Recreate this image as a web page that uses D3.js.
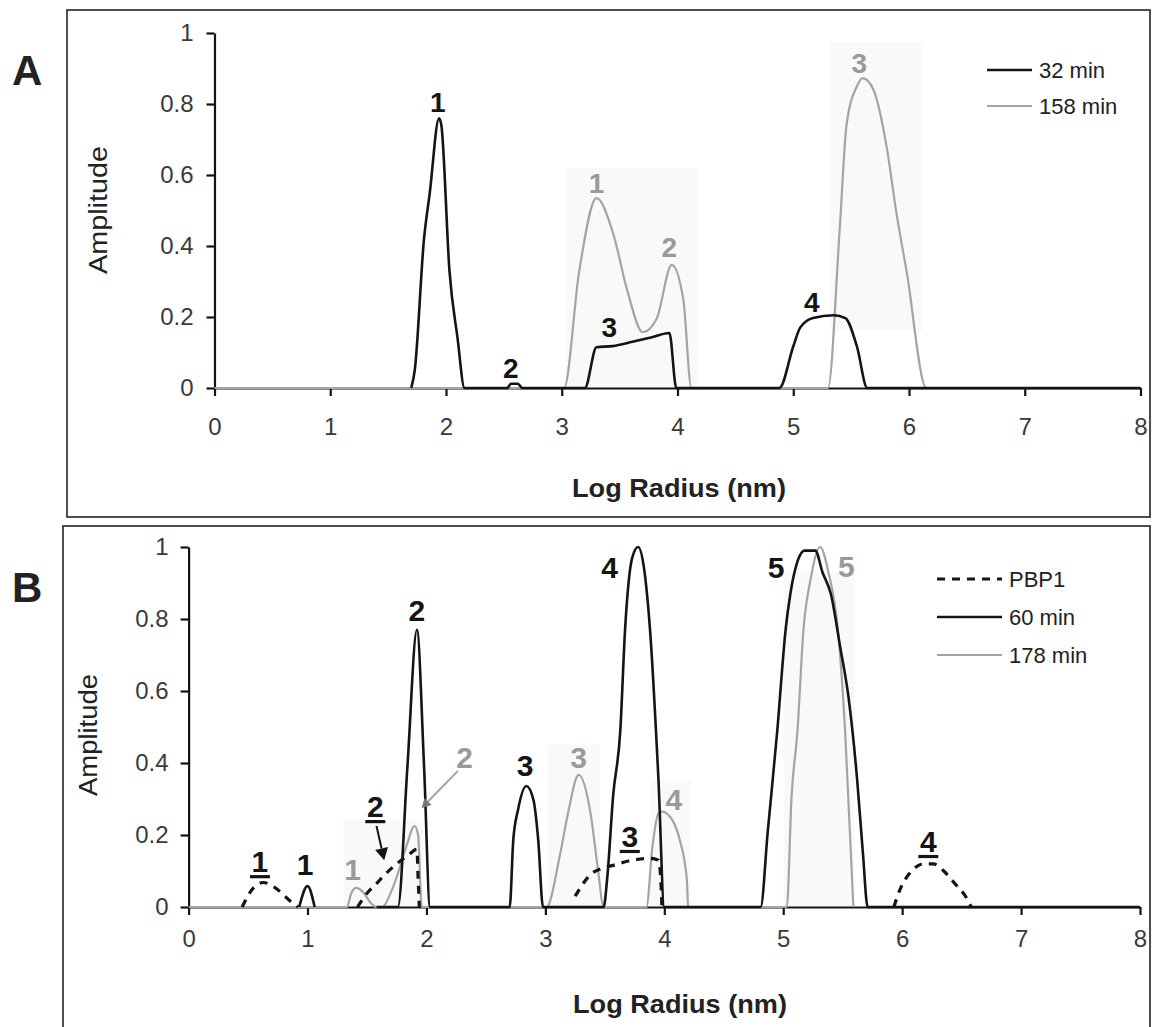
<!DOCTYPE html>
<html><head><meta charset="utf-8">
<script src="https://cdn.jsdelivr.net/npm/d3@7"></script>
<style>
body{margin:0;background:#fff}
svg{display:block}
text{font-family:"Liberation Sans",Arial,Helvetica,sans-serif}
</style>
</head><body>
<svg id="fig" width="1155" height="1027"></svg>
<script>
// ---- shared axis values ----
const xTickValues = [0, 1, 2, 3, 4, 5, 6, 7, 8];
const yTickValues = [0, 0.2, 0.4, 0.6, 0.8, 1];

// ---- Panel A: size distributions at two times ----
const a32min = [[1.70,0],[1.73,0.05],[1.81,0.42],[1.86,0.55],[1.94,0.76],[1.96,0.74],[2.03,0.33],[2.10,0.14],[2.16,0],
  [2.53,0],[2.56,0.012],[2.62,0.012],[2.66,0],
  [3.20,0],[3.30,0.115],[3.44,0.118],[3.61,0.13],[3.78,0.143],[3.93,0.155],[3.99,0],
  [4.88,0],[5.00,0.117],[5.06,0.17],[5.17,0.197],[5.35,0.205],[5.45,0.197],[5.55,0.117],[5.64,0],[8,0]];
const a158min = [[0,0],[3.02,0],[3.15,0.327],[3.30,0.535],[3.44,0.44],[3.57,0.27],[3.70,0.157],[3.82,0.195],[3.95,0.347],[4.05,0.25],[4.12,0],
  [5.30,0],[5.40,0.44],[5.46,0.74],[5.55,0.85],[5.60,0.873],[5.69,0.842],[5.81,0.673],[5.89,0.496],[5.98,0.327],[6.15,0],[6.2,0]];
const aLegend = ["32 min", "158 min"];
const aLabels32 = [["1",1.93,0.777],["2",2.56,0.028],["3",3.41,0.144],["4",5.16,0.214]];
const aLabels158 = [["1",3.30,0.549],["2",3.93,0.369],["3",5.57,0.887]];
const aShade = [[3.03,4.18,0,0.62],[5.32,6.12,0.163,0.975]];

// ---- Panel B: PBP1 and two times ----
const bPBP1 = [[0.45,0],[0.55,0.055],[0.63,0.068],[0.72,0.055],[0.87,0.012],[0.92,0], null,
  [1.42,0],[1.50,0.038],[1.58,0.065],[1.65,0.09],[1.75,0.12],[1.85,0.145],[1.92,0.16],[1.93,0.08],[1.94,0], null,
  [3.25,0.03],[3.38,0.09],[3.50,0.11],[3.56,0.115],[3.73,0.13],[3.88,0.135],[3.95,0.13],[3.97,0.08],[3.98,0], null,
  [5.93,0],[5.98,0.047],[6.08,0.10],[6.18,0.12],[6.26,0.12],[6.35,0.10],[6.43,0.07],[6.55,0.02],[6.58,0]];
const b60min = [[0.93,0],[1.0,0.058],[1.06,0], null,
  [1.58,0],[1.76,0],[1.84,0.39],[1.92,0.77],[1.98,0.39],[2.03,0],
  [2.70,0],[2.73,0.186],[2.77,0.27],[2.84,0.336],[2.90,0.297],[2.94,0.186],[2.98,0],
  [3.49,0],[3.52,0.08],[3.57,0.31],[3.63,0.49],[3.67,0.77],[3.73,0.97],[3.78,1.0],[3.83,0.94],[3.88,0.77],[3.95,0.36],[4.00,0],
  [4.81,0],[4.87,0.21],[4.95,0.49],[5.02,0.77],[5.06,0.87],[5.12,0.96],[5.18,0.99],[5.27,0.99],[5.33,0.93],[5.40,0.87],[5.48,0.72],[5.55,0.58],[5.62,0.36],[5.67,0.15],[5.71,0],[8,0]];
const b178min = [[0,0],[1.33,0],[1.37,0.04],[1.41,0.053],[1.47,0.04],[1.53,0.012],[1.58,0],[1.63,0],[1.70,0.04],[1.75,0.083],[1.83,0.167],[1.90,0.225],[1.93,0.20],[1.96,0],
  [3.01,0],[3.12,0.14],[3.19,0.26],[3.28,0.367],[3.38,0.26],[3.44,0.11],[3.49,0],
  [3.85,0],[3.90,0.167],[3.95,0.26],[3.98,0.265],[4.07,0.24],[4.13,0.186],[4.19,0.075],[4.20,0],
  [5.03,0],[5.07,0.306],[5.12,0.49],[5.17,0.77],[5.23,0.91],[5.31,1.0],[5.38,0.93],[5.46,0.77],[5.52,0.49],[5.56,0.21],[5.59,0]];
const bLegend = ["PBP1", "60 min", "178 min"];
const bLabelsPBP1 = [["1",0.60,0.097],["2",1.57,0.25],["3",3.71,0.167],["4",6.22,0.153]];
const bLabels60 = [["1",0.98,0.089],["2",1.92,0.794],["3",2.83,0.364],["4",3.54,0.914],["5",4.94,0.914]];
const bLabels178 = [["1",1.38,0.075],["2",2.32,0.386],["3",3.28,0.386],["4",4.08,0.269],["5",5.53,0.917]];
const bArrowPBP1 = [[1.58,0.225],[1.645,0.13]];
const bArrow178 = [[2.265,0.378],[1.96,0.275]];
const bShade = [[5.0,5.6,0,0.93],[3.02,3.46,0,0.45],[3.88,4.22,0,0.35],[1.30,1.97,0,0.24]];

const BLACK = "#141414", GRAY = "#a4a4a4", GRAY_TEXT = "#9a9a9a";
const svg = d3.select("#fig");

function panel(cfg) {
  const g = svg.append("g");
  // outer frame
  g.append("rect").attr("x", cfg.frame[0]).attr("y", cfg.frame[1])
    .attr("width", cfg.frame[2]).attr("height", cfg.frame[3])
    .attr("fill", "none").attr("stroke", "#222").attr("stroke-width", 1.6);
  // panel letter
  g.append("text").attr("x", cfg.letterPos[0]).attr("y", cfg.letterPos[1])
    .attr("font-size", 42).attr("font-weight", "bold").attr("fill", "#222").text(cfg.letter);

  const x = d3.scaleLinear().domain([0, 8]).range([cfg.left, cfg.right]);
  const y = d3.scaleLinear().domain([0, 1]).range([cfg.bottom, cfg.top]);

  // faint shaded boxes behind some peaks
  g.selectAll("rect.shade").data(cfg.shade).join("rect").attr("class", "shade")
    .attr("x", d => x(d[0])).attr("width", d => x(d[1]) - x(d[0]))
    .attr("y", d => y(d[3])).attr("height", d => y(d[2]) - y(d[3]))
    .attr("fill", "#f9f9f9");

  // axes
  const yAxis = d3.axisLeft(y).tickValues(yTickValues).tickSize(8).tickSizeOuter(0)
    .tickPadding(cfg.yPad).tickFormat(d => d3.format("~g")(d));
  const xAxis = d3.axisBottom(x).tickValues(xTickValues).tickSize(8).tickSizeOuter(0)
    .tickPadding(cfg.xPad).tickFormat(d3.format("d"));
  const ya = g.append("g").attr("transform", `translate(${cfg.left},0)`).call(yAxis);
  const xa = g.append("g").attr("transform", `translate(0,${cfg.bottom})`).call(xAxis);
  [ya, xa].forEach(a => {
    a.select(".domain").attr("stroke", BLACK).attr("stroke-width", 2.2);
    a.selectAll(".tick line").attr("stroke", BLACK).attr("stroke-width", 2.2);
    a.selectAll(".tick text").attr("font-size", 24).attr("fill", "#3a3a3a")
      .attr("font-family", "'Liberation Sans',Arial,sans-serif");
  });

  // axis titles
  g.append("text").attr("transform", `translate(${cfg.yTitle[0]},${cfg.yTitle[1]}) rotate(-90)`)
    .attr("text-anchor", "middle").attr("font-size", 25).attr("fill", "#222")
    .attr("textLength", cfg.yTitle[2]).attr("lengthAdjust", "spacingAndGlyphs").text("Amplitude");
  g.append("text").attr("x", cfg.xTitle[0]).attr("y", cfg.xTitle[1])
    .attr("text-anchor", "middle").attr("font-size", 26).attr("font-weight", "bold").attr("fill", "#222")
    .attr("textLength", 214).attr("lengthAdjust", "spacingAndGlyphs").text("Log Radius (nm)");

  const line = d3.line().defined(d => d !== null).x(d => x(d[0])).y(d => y(d[1]))
    .curve(d3.curveMonotoneX);
  cfg.series.forEach(s => {
    g.append("path").datum(s.data).attr("d", line).attr("fill", "none")
      .attr("stroke", s.color).attr("stroke-width", s.width)
      .attr("stroke-dasharray", s.dash || null).attr("stroke-linejoin", "round");
  });

  // peak labels
  cfg.labels.forEach(L => {
    L.data.forEach(d => {
      g.append("text").attr("x", x(d[1])).attr("y", y(d[2]))
        .attr("text-anchor", "middle").attr("font-size", cfg.labelSize)
        .attr("font-weight", L.weight).attr("fill", L.color).text(d[0]);
      if (L.underline) {
        g.append("rect").attr("x", x(d[1]) - 10).attr("y", y(d[2]) + 3)
          .attr("width", 20).attr("height", 3.2).attr("fill", BLACK);
      }
    });
  });

  // arrows
  (cfg.arrows || []).forEach(a => {
    const p0 = [x(a.data[0][0]), y(a.data[0][1])], p1 = [x(a.data[1][0]), y(a.data[1][1])];
    const ang = Math.atan2(p1[1] - p0[1], p1[0] - p0[0]);
    const hl = a.head, hw = a.head * 0.55;
    const base = [p1[0] - hl * Math.cos(ang), p1[1] - hl * Math.sin(ang)];
    g.append("line").attr("x1", p0[0]).attr("y1", p0[1]).attr("x2", base[0]).attr("y2", base[1])
      .attr("stroke", a.color).attr("stroke-width", a.width);
    const pts = [p1,
      [base[0] + hw * Math.sin(ang), base[1] - hw * Math.cos(ang)],
      [base[0] - hw * Math.sin(ang), base[1] + hw * Math.cos(ang)]];
    g.append("polygon").attr("points", pts.map(p => p.join(",")).join(" ")).attr("fill", a.headColor);
  });

  // legend
  cfg.legend.forEach((lab, i) => {
    const ly = cfg.legendY + i * cfg.legendStep, s = cfg.legendSeries[i];
    g.append("line").attr("x1", cfg.legendX[0]).attr("x2", cfg.legendX[1]).attr("y1", ly).attr("y2", ly)
      .attr("stroke", s.color).attr("stroke-width", s.width).attr("stroke-dasharray", s.dash || null);
    g.append("text").attr("x", cfg.legendX[1] + 7).attr("y", ly + 8).attr("font-size", 22)
      .attr("fill", "#222").text(lab);
  });
}

const sA32 = {data: a32min, color: BLACK, width: 2.6};
const sA158 = {data: a158min, color: GRAY, width: 2.2};
panel({
  letter: "A", letterPos: [12, 85], frame: [67, 10, 1083, 507],
  left: 214.5, right: 1140.5, top: 33, bottom: 388, yPad: 13, xPad: 22,
  yTitle: [107, 210, 128], xTitle: [679, 497],
  shade: aShade,
  series: [sA158, sA32],
  labelSize: 28,
  labels: [{data: aLabels158, color: GRAY_TEXT, weight: "bold"}, {data: aLabels32, color: BLACK, weight: "bold"}],
  legend: aLegend, legendSeries: [sA32, sA158], legendX: [987, 1032], legendY: 70, legendStep: 36
});

const sB178 = {data: b178min, color: GRAY, width: 2.2};
const sB60 = {data: b60min, color: BLACK, width: 2.6};
const sBP = {data: bPBP1, color: BLACK, width: 3.2, dash: "8,7"};
panel({
  letter: "B", letterPos: [12, 602], frame: [63, 526, 1087, 520],
  left: 188.6, right: 1140, top: 547, bottom: 907, yPad: 12, xPad: 15,
  yTitle: [97, 735, 122], xTitle: [680, 1013],
  shade: bShade,
  series: [sB178, sB60, sBP],
  labelSize: 30,
  labels: [{data: bLabels178, color: GRAY_TEXT, weight: "bold"}, {data: bLabels60, color: BLACK, weight: "bold"},
           {data: bLabelsPBP1, color: BLACK, weight: "bold", underline: true}],
  arrows: [{data: bArrowPBP1, color: BLACK, headColor: BLACK, width: 2, head: 12},
           {data: bArrow178, color: GRAY, headColor: "#777", width: 2, head: 9}],
  legend: bLegend, legendSeries: [sBP, sB60, sB178], legendX: [937, 1002], legendY: 579, legendStep: 38
});
</script>
</body></html>
